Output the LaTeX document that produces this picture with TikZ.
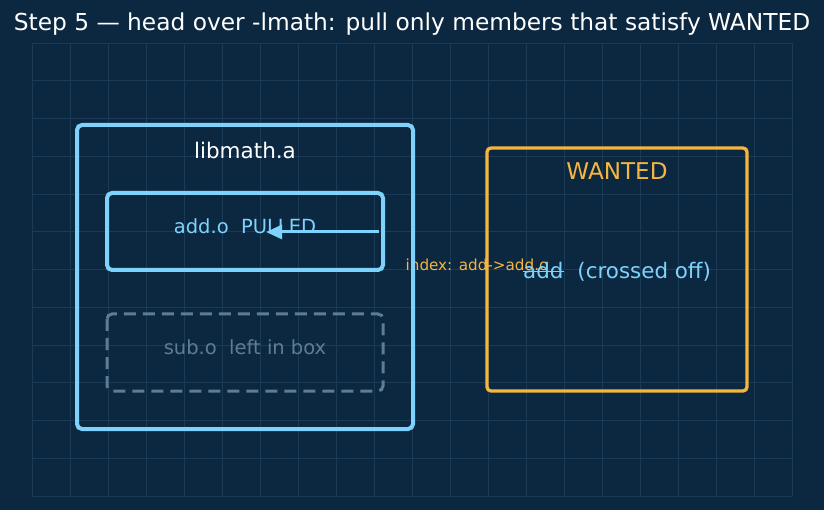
\documentclass[tikz,border=0pt]{standalone}
\usepackage{fontspec}
\setmainfont{DejaVu Sans}
\usetikzlibrary{arrows.meta}
\definecolor{bg}{HTML}{0C2740}
\definecolor{gridc}{HTML}{1B3A56}
\definecolor{sky}{HTML}{7DD3FC}
\definecolor{amber}{HTML}{F6B53F}
\definecolor{slate}{HTML}{5E7C96}
\newcommand{\fs}[1]{\fontsize{#1}{#1}\selectfont}
\tikzset{
  frame/.style={draw=sky, line width=4pt, rounded corners=5pt},
  objbox/.style={draw=sky, line width=4pt, rounded corners=5pt},
  leftbox/.style={draw=slate, line width=3pt, rounded corners=5pt, dash pattern=on 12pt off 7pt},
  wantbox/.style={draw=amber, line width=3.3pt, rounded corners=4pt},
  lbl/.style={inner sep=0pt, anchor=center},
}
\begin{document}
\begin{tikzpicture}[x=1pt,y=-1pt]
\fill[bg] (0,0) rectangle (824,510);
\useasboundingbox (0,0) rectangle (824,510);
% grid
\foreach \k in {0,...,20} \draw[gridc, line width=0.8pt] ({32+38*\k},43) -- ({32+38*\k},496);
\foreach \k in {0,...,12} \draw[gridc, line width=0.8pt] (32,{43+37.75*\k}) -- (792,{43+37.75*\k});
% title
\node[lbl, text=white] (title) at (412,24) {\fs{23.3}Step 5 — head over -lmath: pull only members that satisfy WANTED};
% index label (under boxes)
\node[lbl, text=amber] (index) at (477,265) {\fs{15.2}index: add->add.o};
% boxes
\draw[frame] (77,125) rectangle (413,429);
\node[lbl, text=white] (lib) at (245,150) {\fs{21.5}libmath.a};
\draw[objbox] (107,193) rectangle (383,270);
\node[lbl, text=sky] (addo) at (245,226) {\fs{19.5}add.o\ \ PULLED};
\draw[leftbox] (107,314) rectangle (383,391);
\node[lbl, text=slate] (subo) at (245,347) {\fs{19.5}sub.o\ \ left in box};
\draw[wantbox] (487,148) rectangle (747,391);
\node[lbl, text=amber] (wanted) at (617,171) {\fs{23.1}WANTED};
% crossed
\node[inner sep=0pt, anchor=base west, text=sky] (addw) at (523,278.5) {\fs{21.4}add};
\node[inner sep=0pt, anchor=base west, text=sky] (crossed) at (addw.base east) {\fs{21.4}\ \ (crossed off)};
\draw[sky, line width=1.6pt] ([yshift=7pt]addw.base west) -- ([yshift=7pt]addw.base east);
% arrow
\coordinate (astart) at (379,232);
\coordinate (aend) at (266,232);
\draw[sky, line width=3pt, -{Triangle[length=16pt,width=14pt]}] (astart) -- (aend);
\end{tikzpicture}
\end{document}
